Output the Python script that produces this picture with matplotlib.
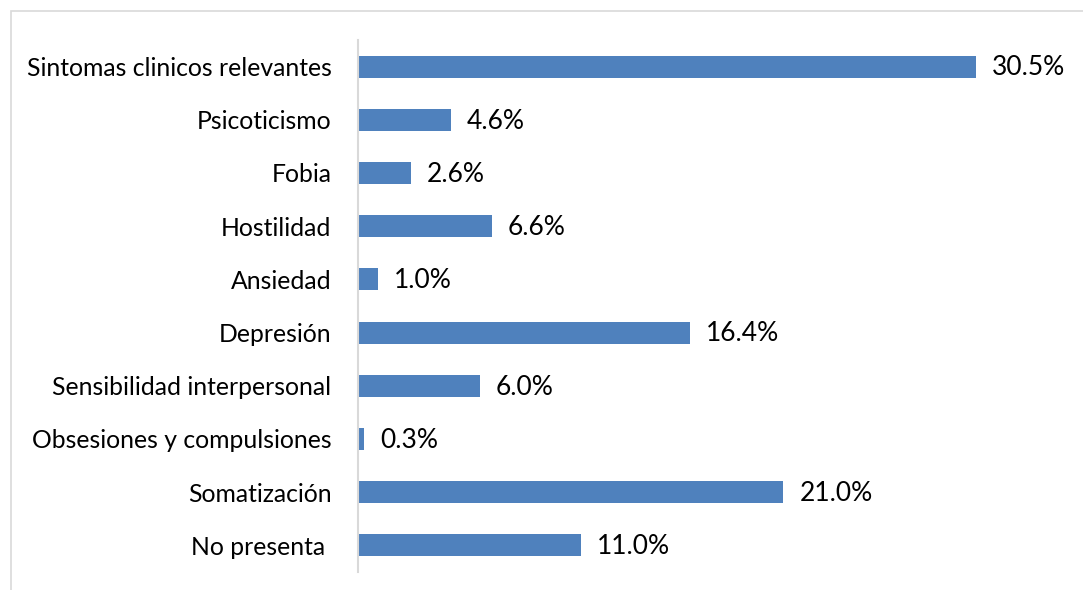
import matplotlib.pyplot as plt
from matplotlib.patches import Rectangle

# categories listed bottom to top
categories = [
    "No presenta ",
    "Somatización",
    "Obsesiones y compulsiones",
    "Sensibilidad interpersonal",
    "Depresión",
    "Ansiedad",
    "Hostilidad",
    "Fobia",
    "Psicoticismo",
    "Sintomas clinicos relevantes",
]
percentages = [11.0, 21.0, 0.3, 6.0, 16.4, 1.0, 6.6, 2.6, 4.6, 30.5]

W, H = 1083, 590
plt.rcParams['font.family'] = ['Lato', 'DejaVu Sans']

fig = plt.figure(figsize=(W / 100, H / 100), dpi=100)
ax = fig.add_axes([358 / W, 1 - 572 / H, 709 / W, 532 / H])

ypos = list(range(len(categories)))
ax.barh(ypos, percentages, height=0.41, color='#4F81BD')

for y, v in zip(ypos, percentages):
    ax.annotate("{0:.1f}%".format(v), (v, y), xytext=(11.5, -1),
                textcoords='offset points', va='center', ha='left',
                fontsize=19, color='black')

ax.set_xlim(0, 35)
ax.set_ylim(-0.5, len(categories) - 0.5)
ax.set_yticks(ypos)
ax.set_yticklabels(categories, fontsize=17.8)
ax.tick_params(axis='y', length=0, pad=19)
ax.set_xticks([])

for side in ['top', 'right', 'bottom']:
    ax.spines[side].set_visible(False)
ax.spines['left'].set_color('#D9D9D9')
ax.spines['left'].set_linewidth(1.5)

# light chart border
fig.patches.append(Rectangle((11 / W, -0.1), 1.2, 1 - 11 / H + 0.1,
                             transform=fig.transFigure, fill=False,
                             edgecolor='#D9D9D9', linewidth=1.2))

fig.savefig('out.png', dpi=100)
